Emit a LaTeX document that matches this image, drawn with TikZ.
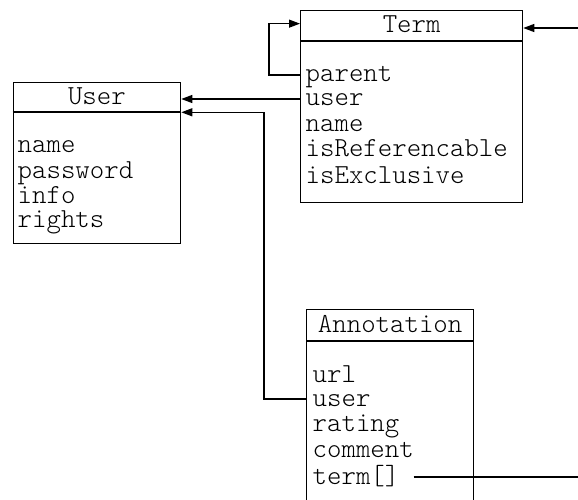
\documentclass[tikz,border=0pt]{standalone}
\usepackage{fontspec}
\usetikzlibrary{arrows.meta}
\begin{document}
\begin{tikzpicture}[x=1pt,y=-1pt,
  every node/.style={font=\fontfamily{lmtt}\fontseries{l}\fontsize{27.5}{27.5}\selectfont},
  head/.style={draw, line width=1.3pt, inner sep=0pt, text height=14pt, text depth=0pt, anchor=north west},
  body/.style={draw, line width=1.3pt, inner sep=0pt, anchor=north west},
  attr/.style={inner sep=0pt, text height=14pt, text depth=0pt, anchor=west},
  sep/.style={line width=2pt},
  conn/.style={line width=1.2pt},
  arr/.style={conn, -{Triangle[length=11pt,width=8pt]}}]
\useasboundingbox (0,0) rectangle (578,500);
\clip (0,0) rectangle (578,500);
% Term
\node[head, minimum width=222pt, minimum height=30pt] (termhead) at (300,10) {Term};
\node[body, minimum width=222pt, minimum height=162pt] (termbody) at (300,40) {};
\draw[sep] (termhead.south west) -- (termhead.south east);
\node[attr] (tparent) at (305.5,75) {parent};
\node[attr] (tuser) at (305.5,99) {user};
\node[attr] (tname) at (305.5,124.5) {name};
\node[attr] (tref) at (305.5,150) {isReferencable};
\node[attr] (texcl) at (305.5,176) {isExclusive};
% User
\node[head, minimum width=167.5pt, minimum height=29pt] (userhead) at (12.5,82) {User};
\node[body, minimum width=167.5pt, minimum height=131.5pt] (userbody) at (12.5,111) {};
\draw[sep] (userhead.south west) -- (userhead.south east);
\node[attr] (uname) at (17.5,146) {name};
\node[attr] (upass) at (17.5,171) {password};
\node[attr] (uinfo) at (17.5,196) {info};
\node[attr] (urights) at (17.5,220) {rights};
% Annotation
\node[head, minimum width=167pt, minimum height=31pt] (annhead) at (306,309) {Annotation};
\node[body, minimum width=167pt, minimum height=200pt] (annbody) at (306,340) {};
\draw[sep] (annhead.south west) -- (annhead.south east);
\node[attr] (aurl) at (312.5,375) {url};
\node[attr] (auser) at (312.5,399) {user};
\node[attr] (arating) at (312.5,424) {rating};
\node[attr] (acomment) at (312.5,450) {comment};
\node[attr] (aterm) at (312.5,477) {term[]};
% free ends at the right edge
\coordinate (termin) at (580,28);
\coordinate (termout) at (580,477);
% connectors
\draw[arr] (tparent.west -| termbody.west) -- ++(-31,0) |- ([yshift=2pt]termhead.west);
\draw[arr] (tuser.west -| termbody.west) -- (tuser.west -| userbody.east);
\draw[arr] (auser.west -| annbody.west) -- ++(-42,0) |- (userhead.south east);
\draw[arr] (termin) -- (termin -| termhead.east);
\draw[conn] ([xshift=14pt]aterm.east) -- (aterm.east -| termout);
\end{tikzpicture}
\end{document}
